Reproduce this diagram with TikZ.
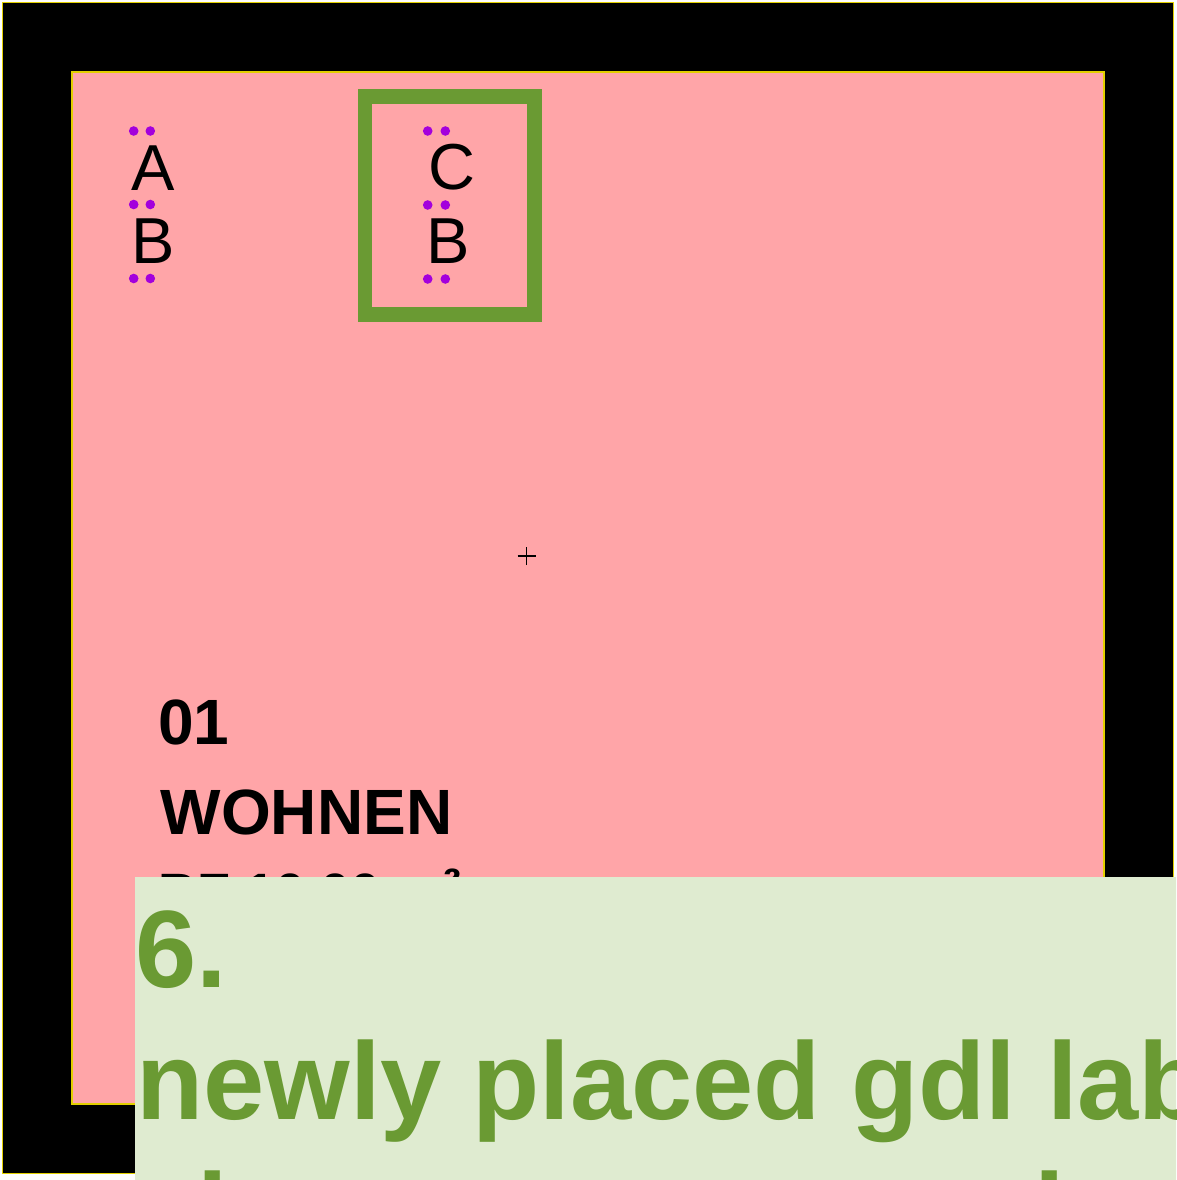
\documentclass[tikz,border=0pt]{standalone}
\usepackage{fontspec}
\setmainfont{Liberation Sans}
\definecolor{pinkfill}{HTML}{FFA5A8}
\definecolor{frameyellow}{HTML}{E2D000}
\definecolor{boxgreen}{HTML}{6A9A33}
\definecolor{lightgreen}{HTML}{DFEBD0}
\definecolor{dotpurple}{HTML}{A300DC}
\begin{document}
\begin{tikzpicture}[x=1pt,y=-1pt,
  frame/.style={draw=frameyellow,line width=1.5pt},
  letter/.style={anchor=base west,inner sep=0pt,font=\fontsize{65}{78}\selectfont},
  stamp/.style={anchor=base west,inner sep=0pt,font=\fontsize{64}{78}\selectfont\bfseries},
  smallstamp/.style={anchor=base west,inner sep=0pt,font=\fontsize{54}{64}\selectfont\bfseries},
  bigtext/.style={anchor=base west,inner sep=0pt,text=boxgreen,font=\fontsize{110}{131}\selectfont\bfseries},
  dot/.style={fill=dotpurple}]
\useasboundingbox (0,0) rectangle (1176,1180);
\clip (0,0) rectangle (1176,1180);
\fill[white] (0,0) rectangle (1176,1180);
% frames
\draw[frame,fill=black] (2.5,2.5) rectangle (1173.5,1173.5);
\draw[frame,fill=pinkfill] (72,72) rectangle (1104,1104);
% left A/B label
\node[letter] (A1) at (131.5,190) {A};
\node[letter] (B1) at (131.5,263) {B};
\foreach \yy in {131,204.5,278.5}{
  \fill[dot] (133.7,\yy) circle (4.8);
  \fill[dot] (150.3,\yy) circle (4.8);
}
% green box C/B
\draw[boxgreen,line width=14.5pt] (365,96.5) rectangle (534.5,314.5);
\node[letter] (C2) at (428,189.5) {C};
\node[letter] (B2) at (426,263) {B};
\foreach \yy in {131,205,279}{
  \fill[dot] (427.7,\yy) circle (4.8);
  \fill[dot] (445.3,\yy) circle (4.8);
}
% centre cross
\coordinate (ctr) at (526.5,556);
\draw[line width=1.3pt] ([xshift=-9pt]ctr) -- ([xshift=9pt]ctr);
\draw[line width=1.3pt] ([yshift=-9pt]ctr) -- ([yshift=9pt]ctr);
% zone stamp
\node[stamp] (num) at (158,744) {01};
\node[stamp] (name) at (160.5,834) {WOHNEN};
\node[smallstamp] (area) at (158,911.5) {BF 10.00 m\raisebox{5pt}{²}};
% light green label box
\fill[lightgreen] (134.5,877) rectangle (1200,1200);
\node[bigtext] (six) at (135,987) {6.};
\node[bigtext] (line1) at (136,1119) {newly placed gdl label};
\node[bigtext] (line2) at (136,1250) {always uses one layer};
\end{tikzpicture}
\end{document}
